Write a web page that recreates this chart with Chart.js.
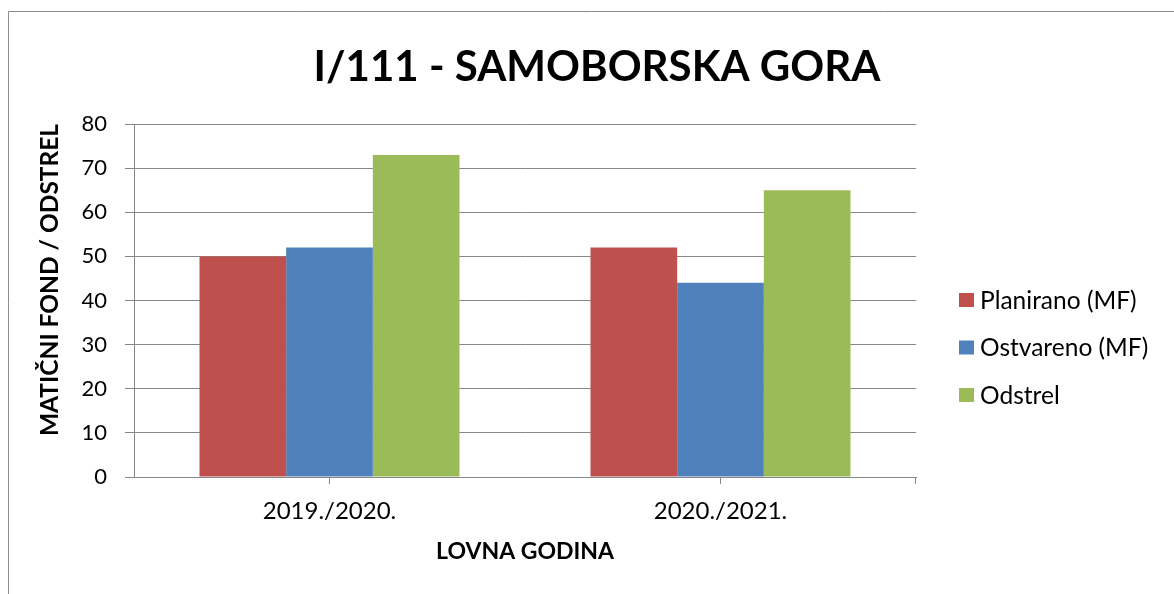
<!DOCTYPE html>
<html>
<head>
<meta charset="utf-8">
<script src="https://cdn.jsdelivr.net/npm/chart.js@4/dist/chart.umd.min.js"></script>
<style>
  html, body { margin: 0; padding: 0; background: #fff; }
  #wrap { width: 1174px; height: 594px; position: relative; }
</style>
</head>
<body>
<div id="wrap"><canvas id="lovChart"></canvas></div>
<script>
// chart data
let categories = ['2019./2020.', '2020./2021.'];
let seriesNames = ['Planirano (MF)', 'Ostvareno (MF)', 'Odstrel'];
let planirano = [50, 52];
let ostvareno = [52, 44];
let odstrel = [73, 65];
let chartTitle = 'I/111 - SAMOBORSKA GORA';
let yTitle = 'MATIČNI FOND / ODSTREL';
let xTitle = 'LOVNA GODINA';

let colors = ['#C0504D', '#4F81BD', '#9BBB59'];
let gridColor = '#888888';
let fontFamily = 'Lato, "Open Sans", sans-serif';

// frame, title, y title and legend drawn on top of the chart
let extras = {
    id: 'extras',
    afterDraw: function (chart) {
        let c = chart.ctx;
        let area = chart.chartArea;
        c.save();
        c.strokeStyle = '#8c8c8c';
        c.lineWidth = 1;
        c.beginPath();
        c.moveTo(8.5, 600);
        c.lineTo(8.5, 11.5);
        c.lineTo(1180, 11.5);
        c.stroke();

        // closing tick at the right end of the x axis
        c.strokeStyle = gridColor;
        c.beginPath();
        c.moveTo(Math.round(area.right) - 0.5, area.bottom);
        c.lineTo(Math.round(area.right) - 0.5, area.bottom + 7);
        c.stroke();

        c.fillStyle = '#000';
        c.font = 'bold 42px ' + fontFamily;
        c.textAlign = 'center';
        c.textBaseline = 'middle';
        c.fillText(chartTitle, 597, 67);

        c.save();
        c.translate(50, 280);
        c.rotate(-Math.PI / 2);
        c.font = 'bold 24.5px ' + fontFamily;
        c.fillText(yTitle, 0, 0);
        c.restore();

        c.font = '24.5px ' + fontFamily;
        c.textAlign = 'left';
        chart.data.datasets.forEach(function (ds, i) {
            let y = 300 + i * 47.5;
            c.fillStyle = ds.backgroundColor;
            c.fillRect(959, y - 7, 15, 14);
            c.fillStyle = '#000';
            c.fillText(ds.label, 980, y + 1);
        });
        c.restore();
    }
};

let ctx = document.getElementById('lovChart').getContext('2d');
let chart = new Chart(ctx, {
    type: 'bar',
    data: {
        labels: categories,
        datasets: [
            { label: seriesNames[0], data: planirano, backgroundColor: colors[0] },
            { label: seriesNames[1], data: ostvareno, backgroundColor: colors[1] },
            { label: seriesNames[2], data: odstrel, backgroundColor: colors[2] }
        ]
    },
    options: {
        responsive: true,
        maintainAspectRatio: false,
        animation: false,
        categoryPercentage: 0.665,
        barPercentage: 1,
        layout: { padding: { top: 124, right: 258, left: 0, bottom: 0 } },
        plugins: {
            legend: { display: false },
            title: { display: false },
            tooltip: { enabled: false }
        },
        scales: {
            x: {
                afterFit: function (s) { s.height = 117; },
                grid: { display: true, drawOnChartArea: false, offset: false, tickLength: 7, color: gridColor },
                border: { color: gridColor },
                ticks: { color: '#000', padding: 13, font: { size: 24, family: fontFamily } },
                title: { display: true, text: xTitle, color: '#000', padding: { top: 0, bottom: 29 },
                    font: { size: 23, weight: 'bold', family: fontFamily } }
            },
            y: {
                min: 0,
                max: 80,
                afterFit: function (s) { s.width = 134; },
                grid: { color: gridColor, tickLength: 9 },
                border: { color: gridColor },
                ticks: { stepSize: 10, color: '#000', padding: 18, font: { size: 22, family: fontFamily } }
            }
        }
    },
    plugins: [extras]
});
</script>
</body>
</html>
